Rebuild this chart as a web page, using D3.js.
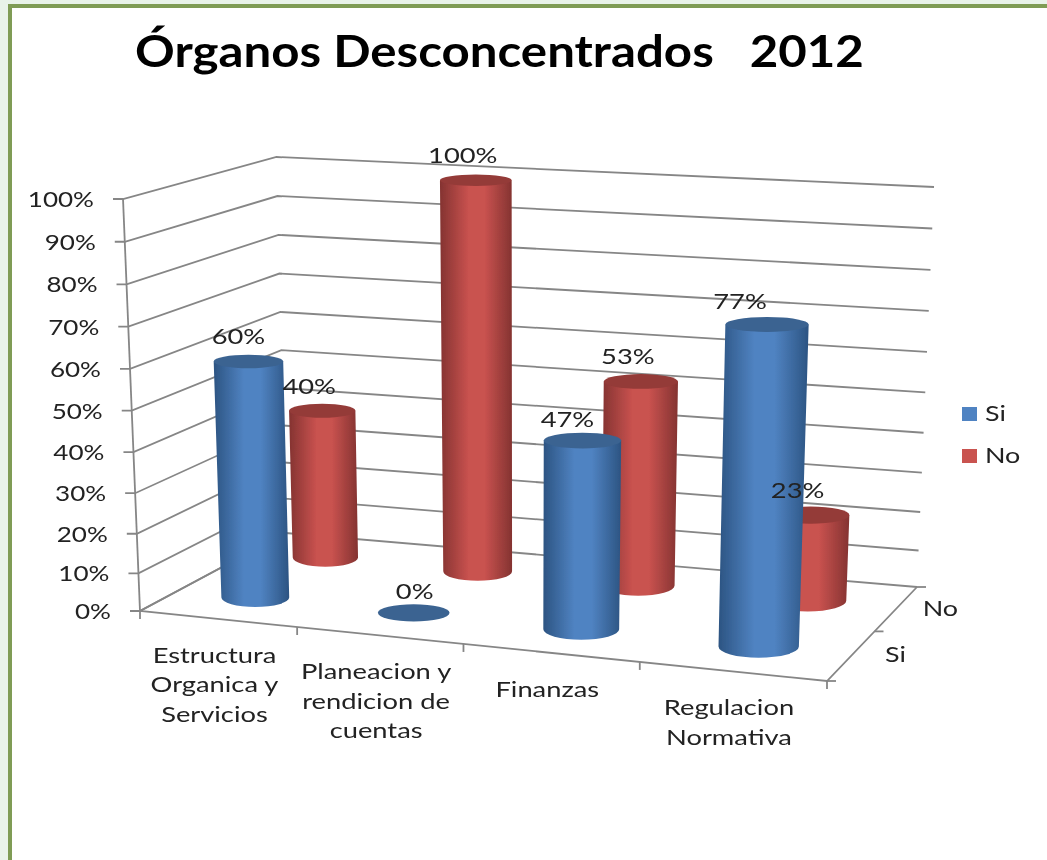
<!DOCTYPE html>
<html>
<head>
<meta charset="utf-8">
<script src="https://cdn.jsdelivr.net/npm/d3@7"></script>
<style>
html, body { margin: 0; padding: 0; background: #fff; }
svg { display: block; }
text { font-family: Lato, "Open Sans", sans-serif; fill: #222; }
</style>
</head>
<body>
<div id="chart"></div>
<script>
// values
var categories = [
	['Estructura', 'Organica y', 'Servicios'],
	['Planeacion y', 'rendicion de', 'cuentas'],
	['Finanzas'],
	['Regulacion', 'Normativa']
];
var seriesNames = ['Si', 'No'];
var siValues = [60, 0, 47, 77];
var noValues = [40, 100, 53, 23];
var valueTicks = [0, 10, 20, 30, 40, 50, 60, 70, 80, 90, 100];
var titleText = 'Órganos Desconcentrados   2012';

var width = 1047, height = 860;
var colors = {
	Si: { dark: '#2c5482', mid: '#5083c2', top: '#3b6391' },
	No: { dark: '#843331', mid: '#c9524f', top: '#943a38' }
};

// corners of the 3d box as seen on the page (floor and the 100% plane)
var floor = [[140, 611], [827, 681], [917, 587], [286, 533]];
var roof = [[123, 199], [845, 241], [934, 187], [277, 157]];
// verticals lean towards this point, far below the chart
var vanish = [522, 9875];

// unit square -> quad
function homography(q) {
	var dx1 = q[1][0] - q[2][0], dx2 = q[3][0] - q[2][0], sx = q[0][0] - q[1][0] + q[2][0] - q[3][0];
	var dy1 = q[1][1] - q[2][1], dy2 = q[3][1] - q[2][1], sy = q[0][1] - q[1][1] + q[2][1] - q[3][1];
	var det = dx1 * dy2 - dx2 * dy1;
	var g = (sx * dy2 - dx2 * sy) / det, h = (dx1 * sy - sx * dy1) / det;
	var a = q[1][0] - q[0][0] + g * q[1][0], b = q[3][0] - q[0][0] + h * q[3][0];
	var d = q[1][1] - q[0][1] + g * q[1][1], e = q[3][1] - q[0][1] + h * q[3][1];
	return function(u, v) {
		var w = g * u + h * v + 1;
		return [(a * u + b * v + q[0][0]) / w, (d * u + e * v + q[0][1]) / w];
	};
}
var floorAt = homography(floor), roofAt = homography(roof);

// the upper part of the axis is closer to the eye, so a slight power
var valueScale = d3.scalePow().exponent(1.04).domain([0, 100]).range([0, 1]);
var catScale = d3.scaleBand().domain(d3.range(categories.length)).range([0, 1]).paddingInner(0.56).paddingOuter(0.28);
var depthScale = d3.scalePoint().domain(seriesNames).range([0, 1]).padding(0.5);

function project(u, v, value) {
	var f = floorAt(u, v), r = roofAt(u, v), t = valueScale(value);
	var y = f[1] + (r[1] - f[1]) * t;
	var x = f[0] + (vanish[0] - f[0]) * (y - f[1]) / (vanish[1] - f[1]);
	return [x, y];
}

var svg = d3.select('#chart').append('svg').attr('width', width).attr('height', height);
var defs = svg.append('defs');

// slide background and green frame
svg.append('rect').attr('width', width).attr('height', height).attr('fill', '#e9f3e9');
svg.append('rect').attr('x', 8).attr('y', 4).attr('width', width).attr('height', height).attr('fill', '#7f9c55');
svg.append('rect').attr('x', 12).attr('y', 8).attr('width', width).attr('height', height).attr('fill', '#fff');

defs.append('filter').attr('id', 'soft').append('feGaussianBlur').attr('stdDeviation', 0.45);
seriesNames.forEach(function(name) {
	var grad = defs.append('linearGradient').attr('id', 'cyl' + name);
	[[0, 'dark'], [0.4, 'mid'], [0.62, 'mid'], [1, 'dark']].forEach(function(s) {
		grad.append('stop').attr('offset', s[0]).attr('stop-color', colors[name][s[1]]);
	});
});

var chart = svg.append('g').attr('filter', 'url(#soft)');

// stretch text, the original font runs wider
function stretch(sel, factor) {
	sel.each(function() {
		d3.select(this).attr('textLength', this.getComputedTextLength() * factor).attr('lengthAdjust', 'spacingAndGlyphs');
	});
}

// title
chart.append('text')
	.attr('x', 499.5).attr('y', 67)
	.attr('text-anchor', 'middle')
	.style('font-size', '43px').style('font-weight', 700).style('fill', '#000')
	.style('white-space', 'pre')
	.text(titleText)
	.call(stretch, 1.145);

// gridlines + value axis
var gridColor = '#868686';
valueTicks.forEach(function(t) {
	var a = project(0, 0, t), b = project(0, 1, t), c = project(1, 1, t);
	chart.append('path')
		.attr('d', d3.line()([[a[0] - 10, a[1]], a, b, c]))
		.attr('fill', 'none').attr('stroke', gridColor).attr('stroke-width', 1.8);
	chart.append('text')
		.attr('x', a[0] - 29).attr('y', a[1] + 8)
		.attr('text-anchor', 'end')
		.style('font-size', '21px')
		.text(t + '%')
		.call(stretch, 1.24);
});
var axisStyle = function(p) { p.attr('fill', 'none').attr('stroke', gridColor).attr('stroke-width', 1.8); };
chart.append('path').attr('d', d3.line()([project(0, 0, 0), project(0, 0, 100)])).call(axisStyle);

// floor edges and their ticks
chart.append('path').attr('d', d3.line()([project(0, 1, 0), project(0, 0, 0), project(1, 0, 0), project(1, 1, 0)])).call(axisStyle);
d3.range(categories.length + 1).forEach(function(i) {
	var p = project(i / categories.length, 0, 0);
	chart.append('path').attr('d', d3.line()([p, [p[0], p[1] + 8]])).call(axisStyle);
});
[0, 0.5, 1].forEach(function(v) {
	var p = project(1, v, 0);
	chart.append('path').attr('d', d3.line()([p, [p[0] + 9, p[1]]])).call(axisStyle);
});

// category labels under the front edge
categories.forEach(function(lines, i) {
	var p = project((i + 0.5) / categories.length, 0, 0);
	lines.forEach(function(line, k) {
		chart.append('text')
			.attr('x', p[0] - 3).attr('y', p[1] + 44 + k * 29.5)
			.attr('text-anchor', 'middle')
			.style('font-size', '21px')
			.text(line)
			.call(stretch, 1.3);
	});
});

// depth labels
seriesNames.forEach(function(name) {
	var p = project(1, depthScale(name), 0);
	chart.append('text')
		.attr('x', p[0] + 44).attr('y', p[1] + 7)
		.attr('text-anchor', 'middle')
		.style('font-size', '21px')
		.text(name)
		.call(stretch, 1.28);
});

// one record per cylinder, back row first so the front row covers it
var bars = [];
[['No', noValues], ['Si', siValues]].forEach(function(s) {
	s[1].forEach(function(value, i) { bars.push({ series: s[0], cat: i, value: value }); });
});

function halfWidth(d, value) {
	var u = catScale(d.cat) + catScale.bandwidth() / 2, v = depthScale(d.series);
	var l = project(u - catScale.bandwidth() / 2, v, value), r = project(u + catScale.bandwidth() / 2, v, value);
	return (r[0] - l[0]) / 2;
}

var capDrop = 2.5; // cap sits a little under the gridline level
bars.forEach(function(d) {
	var u = catScale(d.cat) + catScale.bandwidth() / 2, v = depthScale(d.series);
	var base = project(u, v, 0), top = project(u, v, d.value);
	if (d.value > 0) top[1] += capDrop;
	var rxB = halfWidth(d, 0), rxT = halfWidth(d, d.value);
	var ryB = rxB * 0.28, ryT = rxT * (0.24 - 0.08 * valueScale(d.value));
	if (d.value > 0) {
		chart.append('path')
			.attr('d', 'M' + (top[0] - rxT) + ',' + top[1]
				+ 'L' + (base[0] - rxB) + ',' + base[1]
				+ 'A' + rxB + ',' + ryB + ' 0 0 0 ' + (base[0] + rxB) + ',' + base[1]
				+ 'L' + (top[0] + rxT) + ',' + top[1] + 'Z')
			.attr('fill', 'url(#cyl' + d.series + ')');
	}
	chart.append('ellipse')
		.attr('cx', top[0]).attr('cy', top[1])
		.attr('rx', rxT).attr('ry', ryT)
		.attr('fill', colors[d.series].top);
	d.labelAt = top;
});

// data labels go on top of everything, a few were nudged by hand in the original
var labelShift = { 'Si0': [-10, -24], 'Si1': [1, -21], 'Si2': [-15, -21], 'Si3': [-27, -22] };
bars.forEach(function(d) {
	var shift = labelShift[d.series + d.cat] || [-13, -24];
	chart.append('text')
		.attr('x', d.labelAt[0] + shift[0]).attr('y', d.labelAt[1] + shift[1] + 7)
		.attr('text-anchor', 'middle')
		.style('font-size', '21px')
		.text(d.value + '%')
		.call(stretch, 1.3);
});

// legend
var legend = chart.selectAll('.legend').data(seriesNames).enter().append('g')
	.attr('class', 'legend')
	.attr('transform', function(d, i) { return 'translate(962,' + (407 + i * 42) + ')'; });
legend.append('rect').attr('width', 15).attr('height', 14)
	.attr('fill', function(d) { return colors[d].mid; });
legend.append('text').attr('x', 23).attr('y', 14)
	.style('font-size', '21px')
	.text(function(d) { return d; })
	.call(stretch, 1.28);
</script>
</body>
</html>
